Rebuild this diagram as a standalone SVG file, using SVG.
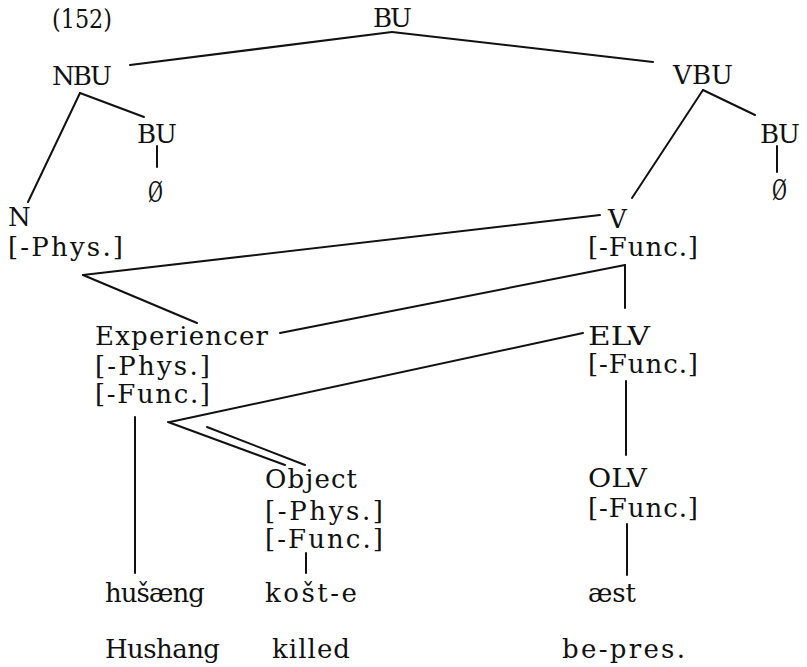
<svg xmlns="http://www.w3.org/2000/svg" width="807" height="667" viewBox="0 0 807 667">
<style>
text{font-family:"DejaVu Serif","Liberation Serif",serif;font-size:26px;fill:#111}
line{stroke:#111;stroke-width:2;stroke-linecap:round}
</style>
<rect width="807" height="667" fill="#fff"/>
<text x="52" y="28" textLength="60" lengthAdjust="spacingAndGlyphs" font-size="24">(152)</text>
<g id="bu-top"><text x="373" y="27" textLength="39">BU</text></g>
<g id="nbu"><text x="52" y="85" textLength="60">NBU</text></g>
<g id="bu-left"><text x="137" y="143" textLength="40">BU</text></g>
<g id="null-left"><text transform="translate(148 202) scale(0.7 1.1)" x="0" y="0">Ø</text></g>
<g id="vbu"><text x="673" y="84" textLength="60">VBU</text></g>
<g id="bu-right"><text x="760" y="143" textLength="40">BU</text></g>
<g id="null-right"><text transform="translate(772 200) scale(0.7 1.1)" x="0" y="0">Ø</text></g>
<g id="n"><text x="8" y="226">N</text><text x="8" y="256" textLength="115">[-Phys.]</text></g>
<g id="v"><text x="608" y="228">V</text><text x="588" y="256" textLength="110">[-Func.]</text></g>
<g id="experiencer"><text x="95" y="345" textLength="173">Experiencer</text><text x="95" y="375" textLength="115">[-Phys.]</text><text x="95" y="403" textLength="115">[-Func.]</text></g>
<g id="elv"><text x="588" y="345" textLength="62" lengthAdjust="spacingAndGlyphs">ELV</text><text x="588" y="373" textLength="110">[-Func.]</text></g>
<g id="object"><text x="265" y="488" textLength="92">Object</text><text x="265" y="520" textLength="118">[-Phys.]</text><text x="265" y="548" textLength="118">[-Func.]</text></g>
<g id="olv"><text x="588" y="487" textLength="59" lengthAdjust="spacingAndGlyphs">OLV</text><text x="588" y="517" textLength="110">[-Func.]</text></g>
<g id="husaeng"><text x="105" y="602" textLength="100">hušæng</text></g>
<g id="kost-e"><text x="265" y="602" textLength="92">košt-e</text></g>
<g id="aest"><text x="588" y="602" textLength="48">æst</text></g>
<g id="hushang"><text x="105" y="658" textLength="115">Hushang</text></g>
<g id="killed"><text x="272" y="658" textLength="78">killed</text></g>
<g id="be-pres"><text x="562" y="658" textLength="123">be-pres.</text></g>
<g id="connectors">
<line x1="130" y1="65" x2="392" y2="32"/>
<line x1="392" y1="32" x2="653" y2="62"/>
<line x1="80" y1="93" x2="28" y2="202"/>
<line x1="80" y1="93" x2="144" y2="117"/>
<line x1="157" y1="146" x2="157" y2="167"/>
<line x1="703" y1="90" x2="632" y2="198"/>
<line x1="703" y1="90" x2="755" y2="115"/>
<line x1="777" y1="146" x2="777" y2="172"/>
<line x1="83" y1="275" x2="600" y2="215"/>
<line x1="83" y1="275" x2="197" y2="323"/>
<line x1="280" y1="333" x2="625" y2="265"/>
<line x1="625" y1="265" x2="625" y2="308"/>
<line x1="170" y1="422" x2="583" y2="333"/>
<line x1="626" y1="381" x2="626" y2="455"/>
<line x1="627" y1="524" x2="627" y2="575"/>
<line x1="135" y1="417" x2="135" y2="573"/>
<line x1="168" y1="422" x2="285" y2="465"/>
<line x1="207" y1="427" x2="305" y2="465"/>
<line x1="306" y1="553" x2="306" y2="573"/>
</g>
</svg>
